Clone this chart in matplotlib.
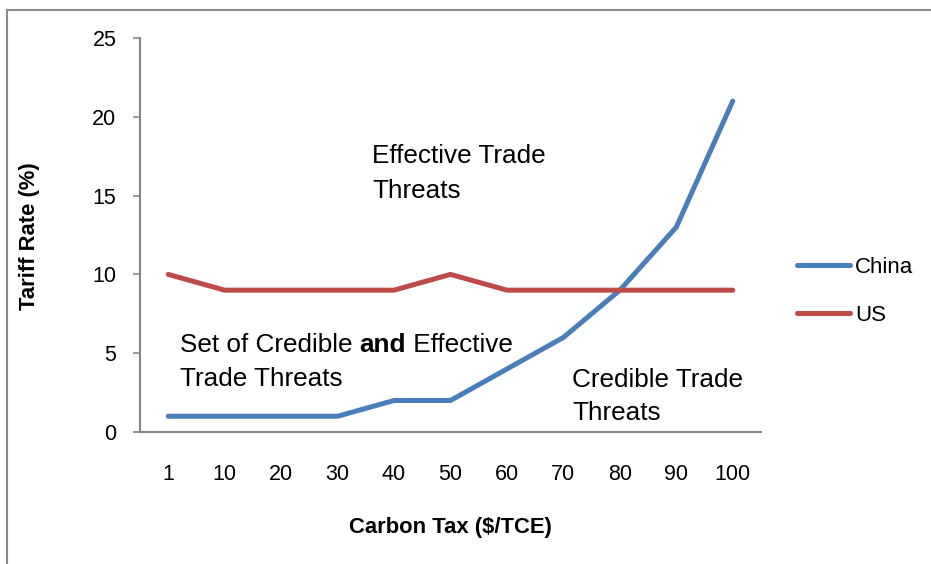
import matplotlib.pyplot as plt
from matplotlib.lines import Line2D

plt.rcParams['font.family'] = ['Liberation Sans', 'DejaVu Sans']

# Données
taxes = ['1', '10', '20', '30', '40', '50', '60', '70', '80', '90', '100']
china = [1, 1, 1, 1, 2, 2, 4, 6, 9, 13, 21]
us = [10, 9, 9, 9, 9, 10, 9, 9, 9, 9, 9]
y_ticks = [0, 5, 10, 15, 20, 25]

W, H = 931, 564
fig = plt.figure(figsize=(W / 100, H / 100), dpi=100)


def fx(px):
    return px / W


def fy(py):
    return 1 - py / H


ax = fig.add_axes([fx(140), fy(432), fx(761) - fx(140), fy(38) - fy(432)])

x = range(len(taxes))
ax.plot(x, china, color='#4A7EBB', lw=3.6, solid_capstyle='round', solid_joinstyle='round', label='China')
ax.plot(x, us, color='#BE4B48', lw=3.6, solid_capstyle='round', solid_joinstyle='round', label='US')

ax.set_xlim(-0.5, len(taxes) - 0.5)
ax.set_ylim(0, 25)
ax.set_xticks(list(x))
ax.set_xticklabels(taxes)
ax.set_yticks(y_ticks)
ax.tick_params(axis='x', length=0, pad=23, labelsize=15.5)
ax.tick_params(axis='y', length=5, width=1.2, color='#868686', direction='out', pad=12, labelsize=15.5)

for s in ['top', 'right']:
    ax.spines[s].set_visible(False)
for s in ['left', 'bottom']:
    ax.spines[s].set_color('#868686')
    ax.spines[s].set_linewidth(1.5)

# Titres des axes
fig.text(fx(450), fy(533), 'Carbon Tax ($/TCE)', ha='center', va='baseline',
         fontsize=15.8, fontweight='bold')
fig.text(fx(30), fy(236), 'Tariff Rate (%)', ha='center', va='center',
         rotation=90, fontsize=15.8, fontweight='bold')

# Zones annotées
fs = 18.8
fig.text(fx(372), fy(163), 'Effective Trade', fontsize=fs, va='baseline')
fig.text(fx(372), fy(198), 'Threats', fontsize=fs, va='baseline')

fig.text(fx(572), fy(387), 'Credible Trade', fontsize=fs, va='baseline')
fig.text(fx(572), fy(420), 'Threats', fontsize=fs, va='baseline')

t1 = fig.text(fx(180), fy(352), 'Set of Credible ', fontsize=fs, va='baseline')
t2 = fig.text(0, 0, 'and', fontsize=fs, va='baseline', fontweight='bold')
t3 = fig.text(0, 0, ' Effective', fontsize=fs, va='baseline')
fig.text(fx(180), fy(386), 'Trade Threats', fontsize=fs, va='baseline')

fig.canvas.draw()
r = fig.canvas.get_renderer()
b1 = t1.get_window_extent(r)
t2.set_position((b1.x1 / W, fy(352)))
fig.canvas.draw()
b2 = t2.get_window_extent(r)
t3.set_position((b2.x1 / W, fy(352)))

# Légende
fig.legend(loc='center left', bbox_to_anchor=(fx(797), fy(291.5)), frameon=False,
           fontsize=16, handlelength=2.4, handletextpad=0.2, labelspacing=1.2,
           borderpad=0, borderaxespad=0)

# Cadre extérieur
fig.add_artist(Line2D([fx(7), 1], [fy(9.5), fy(9.5)], color='#8c8c8c', lw=1.5))
fig.add_artist(Line2D([fx(7), fx(7)], [fy(9.5), 0], color='#8c8c8c', lw=1.5))

fig.savefig('out.png', dpi=100)
